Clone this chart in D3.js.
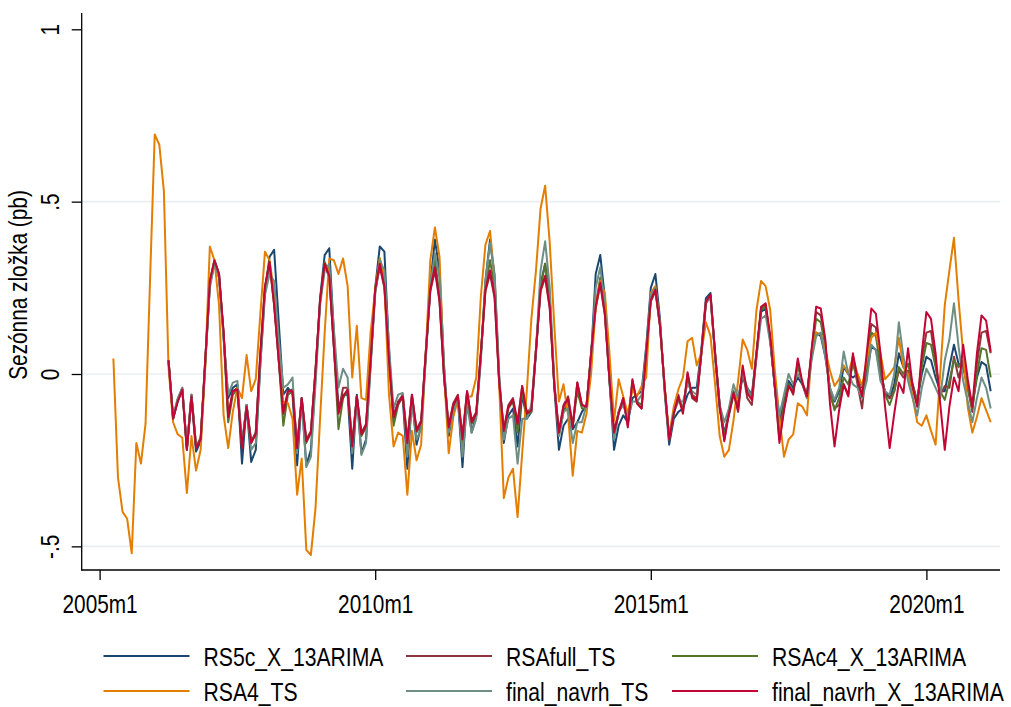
<!DOCTYPE html>
<html>
<head>
<meta charset="utf-8">
<script src="https://cdn.jsdelivr.net/npm/d3@7"></script>
<style>
  body { margin: 0; background: #fff; }
  text { font-family: "Liberation Sans", Arial, sans-serif; fill: #000; }
</style>
</head>
<body>
<div id="container"></div>
<script>
var WIDTH = 1011,
	HEIGHT = 707;

// months counted from 2005m1 = 0
var xTicks = [0, 60, 120, 180];
var xTickLabels = ['2005m1', '2010m1', '2015m1', '2020m1'];
var yTicks = [-0.5, 0, 0.5, 1];
var yTickLabels = ['-.5', '0', '.5', '1'];

var seriesNames = ['RS5c_X_13ARIMA', 'RSAfull_TS', 'RSAc4_X_13ARIMA', 'RSA4_TS', 'final_navrh_TS', 'final_navrh_X_13ARIMA'];
var seriesStart = [15, 15, 15, 3, 15, 15]; // 2006m4 and 2005m4

var rs5c = [
	0.04,-0.13,-0.08,-0.045,-0.22,-0.07,-0.225,-0.195,0.03,
	0.26,0.33,0.29,0.11,-0.07,-0.04,-0.03,-0.26,-0.09,-0.255,-0.22,0.03,
	0.24,0.34,0.36,0.15,-0.06,-0.04,-0.06,-0.265,-0.07,-0.265,-0.22,-0.01,
	0.22,0.345,0.365,0.12,-0.1,-0.06,-0.06,-0.275,-0.06,-0.23,-0.19,0.03,
	0.25,0.37,0.355,0.07,-0.14,-0.08,-0.07,-0.275,-0.07,-0.205,-0.15,0.05,
	0.26,0.39,0.30,0.02,-0.18,-0.1,-0.07,-0.27,-0.06,-0.17,-0.12,0.05,
	0.27,0.39,0.28,-0.02,-0.2,-0.12,-0.1,-0.21,-0.06,-0.13,-0.11,0.06,
	0.26,0.32,0.22,-0.04,-0.22,-0.15,-0.13,-0.16,-0.14,-0.11,-0.09,0.05,
	0.29,0.345,0.22,-0.02,-0.22,-0.15,-0.12,-0.14,-0.07,-0.06,-0.05,0.08,
	0.25,0.29,0.16,-0.05,-0.205,-0.13,-0.11,-0.1,-0.06,-0.04,-0.04,0.07,
	0.22,0.235,0.05,-0.1,-0.17,-0.12,-0.06,-0.07,-0.01,-0.04,-0.06,0.06,
	0.18,0.19,0.1,-0.04,-0.14,-0.08,-0.02,-0.04,-0.01,-0.03,-0.06,0.05,
	0.12,0.11,0.05,-0.04,-0.08,-0.05,0.02,0.0,-0.01,0.0,-0.04,0.0,
	0.08,0.07,0.0,-0.05,-0.07,-0.03,0.06,0.02,0.0,-0.03,-0.08,0.0,
	0.05,0.04,-0.01,-0.05,-0.05,0.02,0.085,0.03,0.02,-0.04,-0.09,-0.01,
	0.035,0.025,-0.05
];
var rsaFull = [
	0.04,-0.125,-0.075,-0.04,-0.215,-0.06,-0.21,-0.185,0.04,
	0.26,0.32,0.28,0.12,-0.12,-0.05,-0.04,-0.21,-0.09,-0.195,-0.17,0.06,
	0.25,0.32,0.2,0.04,-0.11,-0.05,-0.045,-0.21,-0.07,-0.19,-0.165,0.01,
	0.21,0.315,0.28,0.08,-0.11,-0.04,-0.04,-0.2,-0.065,-0.17,-0.145,0.04,
	0.24,0.31,0.25,0.04,-0.12,-0.08,-0.06,-0.19,-0.06,-0.16,-0.135,0.06,
	0.24,0.3,0.21,-0.01,-0.15,-0.085,-0.06,-0.18,-0.05,-0.135,-0.11,0.06,
	0.24,0.29,0.22,-0.025,-0.16,-0.09,-0.07,-0.14,-0.035,-0.11,-0.1,0.07,
	0.24,0.28,0.19,-0.035,-0.165,-0.09,-0.065,-0.15,-0.025,-0.09,-0.095,0.06,
	0.19,0.26,0.17,-0.015,-0.165,-0.11,-0.07,-0.15,-0.02,-0.085,-0.1,0.06,
	0.21,0.24,0.14,-0.035,-0.185,-0.11,-0.06,-0.11,0.0,-0.07,-0.08,0.06,
	0.205,0.225,0.06,-0.09,-0.19,-0.11,-0.05,-0.11,0.01,-0.07,-0.09,0.05,
	0.19,0.2,0.1,-0.035,-0.19,-0.1,-0.03,-0.06,0.035,-0.03,-0.07,0.065,
	0.18,0.17,0.09,-0.06,-0.1,-0.09,-0.03,-0.06,0.05,-0.03,-0.1,0.03,
	0.145,0.135,0.02,-0.06,-0.07,-0.05,0.01,-0.01,0.01,-0.04,-0.09,0.04,
	0.12,0.125,0.03,-0.06,-0.035,-0.04,0.05,-0.01,0.03,-0.04,-0.11,0.03,
	0.12,0.125,0.06
];
var rsaC4 = [
	0.04,-0.13,-0.075,-0.045,-0.215,-0.06,-0.21,-0.19,0.04,
	0.27,0.33,0.29,0.11,-0.14,-0.06,-0.045,-0.21,-0.09,-0.2,-0.17,0.05,
	0.25,0.325,0.21,0.04,-0.15,-0.06,-0.05,-0.21,-0.07,-0.2,-0.17,0.01,
	0.21,0.325,0.29,0.08,-0.16,-0.07,-0.05,-0.21,-0.065,-0.18,-0.155,0.04,
	0.245,0.335,0.27,0.05,-0.15,-0.09,-0.065,-0.2,-0.065,-0.17,-0.145,0.06,
	0.25,0.33,0.23,-0.01,-0.165,-0.095,-0.07,-0.2,-0.055,-0.145,-0.12,0.06,
	0.25,0.33,0.25,-0.02,-0.17,-0.1,-0.08,-0.17,-0.05,-0.12,-0.11,0.07,
	0.25,0.32,0.21,-0.03,-0.18,-0.11,-0.08,-0.15,-0.05,-0.1,-0.1,0.06,
	0.2,0.28,0.18,-0.015,-0.18,-0.11,-0.08,-0.14,-0.03,-0.08,-0.09,0.06,
	0.22,0.25,0.14,-0.035,-0.19,-0.115,-0.07,-0.1,-0.01,-0.06,-0.07,0.06,
	0.21,0.225,0.06,-0.09,-0.18,-0.11,-0.05,-0.09,0.01,-0.05,-0.07,0.06,
	0.185,0.195,0.1,-0.035,-0.17,-0.09,-0.03,-0.05,0.025,-0.03,-0.06,0.06,
	0.16,0.15,0.08,-0.05,-0.105,-0.07,-0.01,-0.03,0.03,-0.02,-0.06,0.03,
	0.12,0.11,0.02,-0.06,-0.09,-0.05,0.02,0.0,0.03,-0.03,-0.08,0.02,
	0.09,0.085,0.02,-0.05,-0.075,-0.02,0.04,0.02,0.04,-0.04,-0.1,0.0,
	0.075,0.07,-0.01
];
var rsa4 = [
	0.045,-0.30,-0.40,-0.42,-0.52,-0.20,-0.26,-0.145,0.28,
	0.695,0.665,0.53,0.02,-0.14,-0.175,-0.185,-0.345,-0.18,-0.28,-0.22,0.02,
	0.37,0.33,0.2,-0.12,-0.215,-0.11,-0.04,-0.07,0.055,-0.05,-0.015,0.175,
	0.355,0.33,0.235,0.05,-0.08,-0.085,-0.13,-0.35,-0.245,-0.51,-0.525,-0.39,
	-0.13,0.12,0.335,0.33,0.29,0.335,0.255,-0.01,0.14,-0.07,-0.075,0.12,
	0.245,0.335,0.27,-0.06,-0.21,-0.17,-0.18,-0.35,-0.165,-0.25,-0.205,0.06,
	0.33,0.425,0.34,0.0,-0.23,-0.125,-0.075,-0.19,-0.065,-0.065,-0.01,0.225,
	0.375,0.415,0.275,-0.035,-0.36,-0.3,-0.275,-0.415,-0.23,-0.05,0.16,0.3,
	0.48,0.546,0.38,0.14,-0.08,-0.03,-0.12,-0.295,-0.165,-0.17,-0.115,0.0,
	0.195,0.27,0.235,0.06,-0.135,-0.015,-0.065,-0.115,-0.045,-0.065,-0.035,-0.01,
	0.235,0.255,0.145,-0.035,-0.18,-0.095,-0.045,-0.01,0.095,0.105,0.025,0.06,
	0.15,0.11,-0.03,-0.18,-0.24,-0.22,-0.135,-0.02,0.1,0.07,0.015,0.185,
	0.27,0.255,0.185,0.01,-0.125,-0.24,-0.19,-0.175,-0.085,-0.095,-0.12,0.06,
	0.12,0.115,0.07,0.01,-0.035,-0.015,0.025,0.0,0.05,0.0,-0.035,0.04,
	0.105,0.12,0.06,-0.015,0.0,0.02,0.105,0.02,0.0,-0.065,-0.14,-0.15,
	-0.12,-0.165,-0.205,0.0,0.2,0.3,0.395,0.215,0.06,-0.095,-0.17,-0.125,
	-0.07,-0.105,-0.14
];
var finalTS = [
	0.04,-0.125,-0.07,-0.04,-0.21,-0.06,-0.21,-0.19,0.03,
	0.25,0.32,0.28,0.1,-0.06,-0.025,-0.02,-0.2,-0.09,-0.22,-0.2,0.03,
	0.23,0.29,0.27,0.1,-0.04,-0.03,-0.01,-0.23,-0.08,-0.27,-0.24,-0.03,
	0.2,0.3,0.32,0.13,-0.04,0.015,-0.01,-0.23,-0.07,-0.235,-0.2,0.02,
	0.23,0.33,0.3,0.08,-0.1,-0.06,-0.055,-0.24,-0.08,-0.19,-0.16,0.04,
	0.26,0.35,0.28,0.02,-0.17,-0.11,-0.07,-0.24,-0.09,-0.17,-0.13,0.04,
	0.27,0.38,0.29,0.0,-0.19,-0.13,-0.12,-0.26,-0.13,-0.13,-0.09,0.07,
	0.3,0.385,0.25,-0.02,-0.18,-0.11,-0.1,-0.2,-0.14,-0.14,-0.09,0.05,
	0.25,0.31,0.2,-0.02,-0.19,-0.11,-0.09,-0.13,-0.08,-0.08,-0.06,0.07,
	0.23,0.25,0.15,-0.04,-0.19,-0.11,-0.08,-0.08,-0.03,-0.05,-0.06,0.06,
	0.21,0.22,0.05,-0.09,-0.14,-0.1,-0.03,-0.07,0.0,-0.04,-0.07,0.05,
	0.16,0.17,0.09,-0.03,-0.12,-0.06,0.0,-0.03,0.0,-0.02,-0.07,0.04,
	0.11,0.12,0.05,-0.04,-0.075,-0.04,0.065,0.0,-0.03,-0.04,-0.07,-0.02,
	0.085,0.07,-0.02,-0.05,-0.06,0.0,0.15,0.05,-0.02,-0.07,-0.12,-0.04,
	0.015,-0.01,-0.04,-0.07,0.04,0.1,0.205,0.08,-0.02,-0.08,-0.14,-0.07,
	-0.01,-0.04,-0.1
];
var finalX13 = [
	0.04,-0.13,-0.08,-0.045,-0.22,-0.065,-0.215,-0.19,0.04,
	0.27,0.33,0.29,0.12,-0.125,-0.05,-0.045,-0.215,-0.095,-0.20,-0.175,0.06,
	0.255,0.325,0.2,0.04,-0.115,-0.05,-0.05,-0.215,-0.07,-0.195,-0.17,0.01,
	0.215,0.32,0.285,0.08,-0.115,-0.065,-0.045,-0.21,-0.065,-0.175,-0.15,0.04,
	0.245,0.32,0.255,0.04,-0.125,-0.085,-0.065,-0.2,-0.06,-0.165,-0.14,0.06,
	0.245,0.31,0.215,-0.01,-0.155,-0.09,-0.065,-0.19,-0.05,-0.14,-0.115,0.06,
	0.245,0.30,0.225,-0.025,-0.165,-0.095,-0.075,-0.145,-0.035,-0.115,-0.105,0.07,
	0.245,0.285,0.195,-0.035,-0.17,-0.095,-0.07,-0.155,-0.025,-0.09,-0.095,0.06,
	0.195,0.265,0.175,-0.015,-0.17,-0.115,-0.07,-0.155,-0.015,-0.085,-0.1,0.06,
	0.215,0.245,0.14,-0.035,-0.19,-0.115,-0.065,-0.115,0.005,-0.065,-0.075,0.06,
	0.21,0.23,0.06,-0.095,-0.195,-0.115,-0.055,-0.105,0.025,-0.055,-0.075,0.06,
	0.195,0.205,0.11,-0.035,-0.2,-0.105,-0.035,-0.055,0.045,-0.025,-0.065,0.07,
	0.195,0.19,0.1,-0.085,-0.21,-0.105,-0.03,-0.065,0.06,-0.015,-0.065,0.06,
	0.19,0.175,0.06,-0.095,-0.215,-0.115,-0.025,-0.055,0.075,-0.035,-0.095,0.06,
	0.18,0.16,0.06,-0.085,-0.22,-0.095,-0.01,-0.05,0.085,-0.015,-0.095,0.06,
	0.17,0.155,0.065
];

var seriesValues = [rs5c, rsaFull, rsaC4, rsa4, finalTS, finalX13];
var colors = ['#1a476f', '#90353b', '#55752f', '#e37e00', '#6e8e84', '#c10534'];

var xScale = d3.scaleLinear().domain([0, 180]).range([99.6, 926.4]);
var yScale = d3.scaleLinear().domain([0, 1]).range([374, 29.3]);

var AXIS_LEFT = 81.7, AXIS_BOTTOM = 570, AXIS_TOP = 13, AXIS_RIGHT = 1000;
var FONT = 26;

// narrow the text the way the original condensed font looks
function squeeze(k) {
	return function(sel) {
		sel.each(function() {
			var len = this.getComputedTextLength();
			d3.select(this).attr('textLength', len * k).attr('lengthAdjust', 'spacingAndGlyphs');
		});
	};
}

function drawGrid(svg) {
	svg.append('g').selectAll('line').data([-0.5, 0, 0.5]).enter()
		.append('line')
		.attr('x1', AXIS_LEFT).attr('x2', AXIS_RIGHT)
		.attr('y1', function(d) { return yScale(d); })
		.attr('y2', function(d) { return yScale(d); })
		.attr('stroke', '#e8eff2')
		.attr('stroke-width', 1.6);
}

function drawAxis(svg) {
	var xAxis = d3.axisBottom(xScale).tickValues(xTicks)
		.tickFormat(function(d, i) { return xTickLabels[i]; })
		.tickSize(10);
	var gx = svg.append('g').attr('transform', 'translate(0,' + AXIS_BOTTOM + ')').call(xAxis);
	gx.select('.domain').remove();
	gx.selectAll('.tick line').attr('stroke', '#000').attr('stroke-width', 1.3);
	gx.selectAll('.tick text')
		.attr('y', 43).attr('dy', 0)
		.style('font-size', FONT + 'px')
		.style('font-family', '"Liberation Sans", Arial, sans-serif')
		.call(squeeze(0.8));

	var yAxis = d3.axisLeft(yScale).tickValues(yTicks)
		.tickFormat(function(d, i) { return yTickLabels[i]; })
		.tickSize(10);
	var gy = svg.append('g').attr('transform', 'translate(' + AXIS_LEFT + ',0)').call(yAxis);
	gy.select('.domain').remove();
	gy.selectAll('.tick line').attr('stroke', '#000').attr('stroke-width', 1.3);
	gy.selectAll('.tick text')
		.attr('x', 0).attr('dy', 0).attr('y', 0)
		.attr('text-anchor', 'middle')
		.attr('transform', 'translate(-23,0) rotate(-90)')
		.style('font-size', FONT + 'px')
		.style('font-family', '"Liberation Sans", Arial, sans-serif')
		.call(squeeze(0.8));

	svg.append('line')
		.attr('x1', AXIS_LEFT).attr('x2', AXIS_LEFT)
		.attr('y1', AXIS_TOP).attr('y2', AXIS_BOTTOM + 0.6)
		.attr('stroke', '#000').attr('stroke-width', 1.3);
	svg.append('line')
		.attr('x1', AXIS_LEFT - 0.6).attr('x2', AXIS_RIGHT)
		.attr('y1', AXIS_BOTTOM).attr('y2', AXIS_BOTTOM)
		.attr('stroke', '#000').attr('stroke-width', 1.3);

	svg.append('text')
		.attr('transform', 'translate(27,285) rotate(-90)')
		.attr('text-anchor', 'middle')
		.style('font-size', FONT + 'px')
		.text('Sezónna zložka (pb)')
		.call(squeeze(0.8));
}

var lineFunction = d3.line()
	.x(function(d) { return xScale(d.m); })
	.y(function(d) { return yScale(d.v); });

function drawLines(svg) {
	seriesValues.forEach(function(values, k) {
		var pts = values.map(function(v, i) { return { m: seriesStart[k] + i, v: v }; });
		svg.append('path')
			.attr('d', lineFunction(pts))
			.attr('fill', 'none')
			.attr('stroke', colors[k])
			.attr('stroke-width', 2)
			.attr('stroke-linejoin', 'round');
	});
}

function drawLegend(svg) {
	var colX = [103.5, 406, 672];
	var rowY = [656, 691];
	seriesNames.forEach(function(name, k) {
		var cx = colX[k % 3], cy = rowY[Math.floor(k / 3)];
		svg.append('line')
			.attr('x1', cx).attr('x2', cx + 86)
			.attr('y1', cy).attr('y2', cy)
			.attr('stroke', colors[k]).attr('stroke-width', 2);
		svg.append('text')
			.attr('x', cx + 100).attr('y', cy + 9.5)
			.style('font-size', '25.5px')
			.text(name)
			.call(squeeze(0.83));
	});
}

function drawChart() {
	var svg = d3.select('#container')
		.append('svg')
		.attr('width', WIDTH)
		.attr('height', HEIGHT);
	svg.append('rect').attr('width', WIDTH).attr('height', HEIGHT).attr('fill', '#fff');
	drawGrid(svg);
	drawAxis(svg);
	drawLines(svg);
	drawLegend(svg);
}

drawChart();
</script>
</body>
</html>
